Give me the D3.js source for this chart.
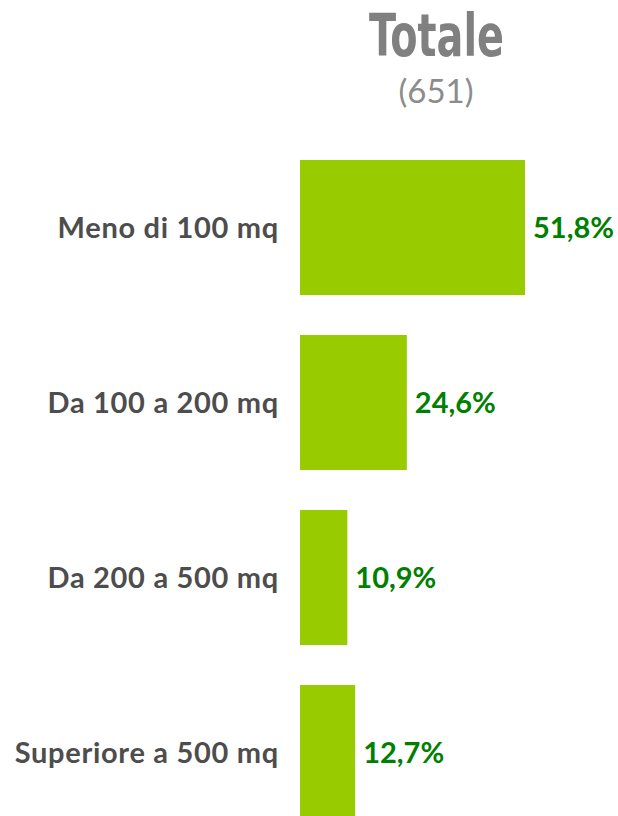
<!DOCTYPE html>
<html>
<head>
<meta charset="utf-8">
<script src="https://cdn.jsdelivr.net/npm/d3@7"></script>
<style>
  html, body { margin: 0; padding: 0; background: #fff; }
  svg { display: block; }
</style>
</head>
<body>
<div id="chart"></div>
<script>
var categories = ["Meno di 100 mq", "Da 100 a 200 mq", "Da 200 a 500 mq", "Superiore a 500 mq"];
var values = [51.8, 24.6, 10.9, 12.7];
var valueLabels = ["51,8%", "24,6%", "10,9%", "12,7%"];
var titolo = "Totale";
var sottotitolo = "(651)";

var width = 618, height = 816;
var barLeft = 300;

var svg = d3.select("#chart")
    .append("svg")
        .attr("width", width)
        .attr("height", height)
        .style("background-color", "white");

var xVerdi = d3.scaleLinear()
    .domain([0, d3.max(values)])
    .range([0, 225]);

var yVerdi = d3.scaleBand()
    .domain(categories)
    .range([140, 840])
    .paddingInner(0.2286)
    .paddingOuter(0.1143);

var data = categories.map(function(c, i){
    return {cat: c, val: values[i], lab: valueLabels[i]};
});

// titolo
svg.append("text")
    .attr("x", 369)
    .attr("y", 56)
    .attr("textLength", 135)
    .attr("lengthAdjust", "spacingAndGlyphs")
    .style("font-family", "'DejaVu Sans Condensed', 'DejaVu Sans'")
    .style("font-weight", "bold")
    .style("font-size", "59px")
    .style("fill", "#808080")
    .text(titolo);

svg.append("text")
    .attr("x", 436)
    .attr("y", 103)
    .attr("text-anchor", "middle")
    .style("font-family", "Lato")
    .style("font-size", "33px")
    .style("fill", "#8c8c8c")
    .text(sottotitolo);

svg.selectAll(".stolpe")
    .data(data)
    .enter()
    .append("rect")
    .attr("class", "stolpe")
    .attr("x", barLeft)
    .attr("y", function(d){ return yVerdi(d.cat); })
    .attr("width", function(d){ return xVerdi(d.val); })
    .attr("height", yVerdi.bandwidth())
    .style("fill", "#99cc00");

svg.selectAll(".kat")
    .data(data)
    .enter()
    .append("text")
    .attr("class", "kat")
    .attr("x", 279)
    .attr("y", function(d){ return yVerdi(d.cat) + yVerdi.bandwidth() / 2; })
    .attr("dy", "0.35em")
    .attr("text-anchor", "end")
    .style("font-family", "Lato")
    .style("font-weight", "bold")
    .style("font-size", "29px")
    .style("letter-spacing", "0.7px")
    .style("fill", "#4d4d4d")
    .text(function(d){ return d.cat; });

svg.selectAll(".val")
    .data(data)
    .enter()
    .append("text")
    .attr("class", "val")
    .attr("x", function(d){ return barLeft + xVerdi(d.val) + 8; })
    .attr("y", function(d){ return yVerdi(d.cat) + yVerdi.bandwidth() / 2; })
    .attr("dy", "0.35em")
    .style("font-family", "Lato")
    .style("font-weight", "bold")
    .style("font-size", "29px")
    .style("fill", "#008000")
    .text(function(d){ return d.lab; });
</script>
</body>
</html>
